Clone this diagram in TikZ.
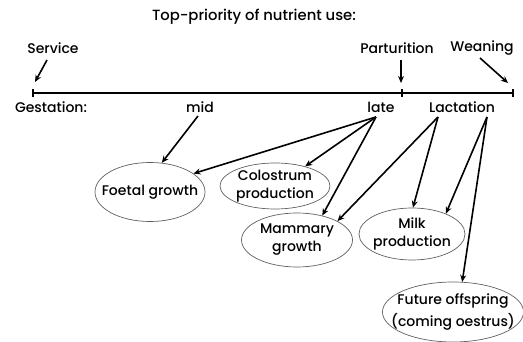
\documentclass[tikz,border=0pt]{standalone}
\usepackage{fontspec}
\setmainfont{Poppins}[UprightFont=* Medium]
\usetikzlibrary{shapes.geometric,arrows.meta}
\begin{document}
\begin{tikzpicture}[x=1pt,y=-1pt,
  lbl/.style={font=\fontsize{14}{16}\selectfont, inner sep=0pt},
  ell/.style={ellipse, draw=gray!75!black, line width=0.7pt, font=\fontsize{14}{18}\selectfont, align=center, inner xsep=-12pt, inner ysep=-6pt},
  arr/.style={line width=1.6pt, -{Stealth[length=7pt,width=6pt]}},
  axis/.style={line width=1.6pt}]
\useasboundingbox (0,0) rectangle (523,342);
\node[lbl, font=\fontsize{14.8}{16}\selectfont] (title) at (254,17) {Top-priority of nutrient use:};
% timeline
\coordinate (t0) at (33,93);
\coordinate (t1) at (402,93);
\coordinate (t2) at (513,93);
\draw[axis] (t0) -- (t2);
\draw[axis] ([yshift=-4pt]t0) -- ([yshift=4pt]t0);
\draw[axis] ([yshift=-4pt]t1) -- ([yshift=4pt]t1);
\draw[axis] ([yshift=-4pt]t2) -- ([yshift=4pt]t2);
% top labels
\node[lbl] (service) at (53,48) {Service};
\node[lbl] (partu) at (397,48) {Parturition};
\node[lbl] (wean) at (482,48) {Weaning};
\coordinate (serS) at (47,60);
\coordinate (serE) at (35,82);
\coordinate (parS) at (401,60);
\coordinate (parE) at (401,83);
\coordinate (weaS) at (480,58);
\coordinate (weaE) at (508,83);
\draw[arr] (serS) -- (serE);
\draw[arr] (parS) -- (parE);
\draw[arr] (weaS) -- (weaE);
% phase labels
\node[lbl] (gest) at (51,107) {Gestation:};
\node[lbl] (mid) at (200,107) {mid};
\node[lbl] (late) at (381,107) {late};
\node[lbl] (lact) at (462,107) {Lactation};
% ellipses
\node[ell, minimum width=110pt, minimum height=59pt] (foetal) at (150,192) {Foetal growth};
\node[ell, minimum width=110pt, minimum height=46pt] (colo) at (275,186) {Colostrum\\production};
\node[ell, minimum width=111pt, minimum height=54pt] (mamm) at (297,240) {Mammary\\growth};
\node[ell, minimum width=106pt, minimum height=52pt] (milk) at (412,234) {Milk\\production};
\node[ell, minimum width=133pt, minimum height=60pt] (future) at (453,312) {Future offspring\\[4pt](coming oestrus)};
% arrows
\coordinate (midS) at (198,116);
\coordinate (lateS) at (376,117);
\coordinate (lacL) at (438,117);
\coordinate (lacR) at (487,117);
\draw[arr] (midS) -- (foetal.68);
\draw[arr] (lateS) -- (foetal.23);
\draw[arr] (lateS) -- (colo.33);
\draw[arr] (lateS) -- (mamm.44);
\draw[arr] (lacL) -- (mamm.25);
\draw[arr] (lacL) -- (milk.88);
\draw[arr] (lacR) -- (milk.31);
\draw[arr] (lacR) -- (future.73);
\end{tikzpicture}
\end{document}
